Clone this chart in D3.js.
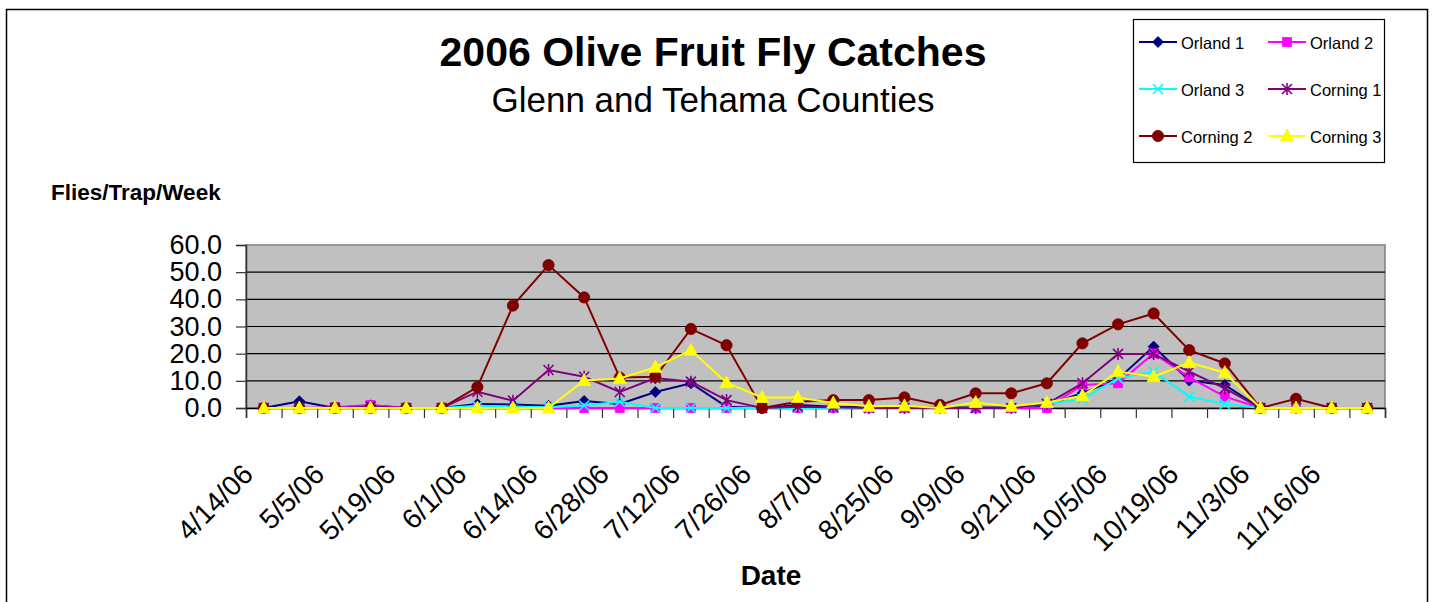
<!DOCTYPE html>
<html>
<head>
<meta charset="utf-8">
<script src="https://cdn.jsdelivr.net/npm/d3@7"></script>
<style>
  body { margin: 0; background: #fff; }
  svg { display: block; font-family: Arial, "Liberation Sans", sans-serif; }
</style>
</head>
<body>
<div id="chart"></div>
<script>
// 2006 olive fruit fly catches

let dates = ["4/14/06", "4/25/06", "5/5/06", "5/12/06", "5/19/06", "5/25/06", "6/1/06", "6/7/06",
             "6/14/06", "6/21/06", "6/28/06", "7/5/06", "7/12/06", "7/19/06", "7/26/06", "8/1/06",
             "8/7/06", "8/16/06", "8/25/06", "9/1/06", "9/9/06", "9/15/06", "9/21/06", "9/28/06",
             "10/5/06", "10/12/06", "10/19/06", "10/26/06", "11/3/06", "11/9/06", "11/16/06", "11/22/06"];

let orland1  = [0, 2.5, 0, 1.0, 0, 0, 1.5, 1.3, 0.8, 2.6, 1.5, 5.9, 9.1, 0.5, 0, 1.1,
                0.5, 0.3, 0.2, 0.2, 0.2, 0.2, 1.0, 5.5, 10.7, 22.6, 10.1, 8.5, 0, 0, 0, 0];
let orland2  = [0, 0, 0.3, 1.1, 0, 0, 0, 0, 0, 0, 0, 0, 0, 0, 0, 0,
                0, 0, 0, 0, 0, 0, 0, 8.5, 9.1, 20.1, 11.3, 4.2, 0, 0, 0, 0];
let orland3  = [0, 0, 0, 0, 0, 0, 0.8, 0.5, 0.3, 0.9, 2.3, 0, 0, 0, 0, 0,
                0, 0, 0, 0, 0, 0, 1.5, 3.2, 10.9, 13.4, 4.2, 1.5, 0, 0, 0, 0];
let corning1 = [0, 0, 0, 0.5, 0, 0, 6.0, 2.7, 14.0, 11.5, 5.9, 11.0, 9.7, 2.9, 0, 0.5,
                0.3, 0, 0, 0, 0, 0, 1.5, 9.1, 19.9, 19.9, 13.4, 7.2, 0, 0, 0, 0];
let corning2 = [0, 0, 0, 0, 0, 0, 7.7, 37.7, 52.6, 40.7, 11.2, 11.5, 29.1, 23.1, 0, 2.3,
                2.9, 2.9, 3.9, 1.1, 5.4, 5.4, 9.1, 23.8, 30.8, 34.8, 21.3, 16.4, 0, 3.4, 0, 0];
let corning3 = [0, 0, 0, 0, 0, 0, 0, 0, 0, 10.1, 10.9, 15.0, 21.3, 9.3, 3.9, 3.9,
                1.8, 0.6, 0.8, 0, 2.0, 0.6, 2.0, 4.5, 13.4, 11.5, 16.7, 13.0, 0, 0, 0, 0];

let seriesNames = ["Orland 1", "Orland 2", "Orland 3", "Corning 1", "Corning 2", "Corning 3"];
let yTicks = [0, 10, 20, 30, 40, 50, 60];

////////////////////////////////////////////////////////////////////////
// layout

let width = 1435, height = 602;
let plot = { left: 246, right: 1385, top: 245, bottom: 408 };

let series = [
  { name: seriesNames[0], values: orland1,  color: "#000080", marker: "diamond" },
  { name: seriesNames[1], values: orland2,  color: "#ff00ff", marker: "square" },
  { name: seriesNames[2], values: orland3,  color: "#00ffff", marker: "x" },
  { name: seriesNames[3], values: corning1, color: "#800080", marker: "star" },
  { name: seriesNames[4], values: corning2, color: "#800000", marker: "circle" },
  { name: seriesNames[5], values: corning3, color: "#ffff00", marker: "triangle" }
];

let xScale = d3.scaleBand().domain(dates).range([plot.left, plot.right]);
let xEdge  = d3.scaleLinear().domain([0, dates.length]).range([plot.left, plot.right]);
let yScale = d3.scaleLinear().domain([0, 60]).range([plot.bottom, plot.top]);

function cx(i) { return xScale(dates[i]) + xScale.bandwidth() / 2; }

// marker outlines, centred on 0,0
function markerPath(type) {
  switch (type) {
    case "diamond":  return "M0,-5.5L5.5,0L0,5.5L-5.5,0Z";
    case "square":   return "M-4.5,-4.5H4.5V4.5H-4.5Z";
    case "x":        return "M-5,-5L5,5M5,-5L-5,5";
    case "star":     return "M-5,-5L5,5M5,-5L-5,5M0,-6V6";
    case "circle":   return d3.symbol(d3.symbolCircle, 100)();
    case "triangle": return "M0,-7L6.5,5L-6.5,5Z";
  }
}
function isStroked(type) { return type === "x" || type === "star"; }

let svg = d3.select("#chart").append("svg")
  .attr("width", width)
  .attr("height", height);

// outer frame
svg.append("rect")
  .attr("x", 6.5).attr("y", 9.5)
  .attr("width", 1421).attr("height", 620)
  .attr("fill", "none")
  .attr("stroke", "#000")
  .attr("stroke-width", 1.5);

// titles
svg.append("text")
  .attr("x", 713).attr("y", 66)
  .attr("text-anchor", "middle")
  .attr("font-size", 41).attr("font-weight", "bold")
  .text("2006 Olive Fruit Fly Catches");
svg.append("text")
  .attr("x", 713).attr("y", 112)
  .attr("text-anchor", "middle")
  .attr("font-size", 35)
  .text("Glenn and Tehama Counties");
svg.append("text")
  .attr("x", 51).attr("y", 200)
  .attr("font-size", 22.5).attr("font-weight", "bold")
  .text("Flies/Trap/Week");
svg.append("text")
  .attr("x", 771).attr("y", 585)
  .attr("text-anchor", "middle")
  .attr("font-size", 28).attr("font-weight", "bold")
  .text("Date");

// plot area
svg.append("rect")
  .attr("x", plot.left).attr("y", plot.top)
  .attr("width", plot.right - plot.left).attr("height", plot.bottom - plot.top)
  .attr("fill", "#c0c0c0")
  .attr("stroke", "#808080")
  .attr("stroke-width", 1.5);

// gridlines
svg.append("g")
  .selectAll("line")
  .data(yTicks.filter(d => d > 0 && d < 60))
  .enter()
  .append("line")
  .attr("x1", plot.left).attr("x2", plot.right)
  .attr("y1", d => yScale(d)).attr("y2", d => yScale(d))
  .attr("stroke", "#000")
  .attr("stroke-width", 1.2);

// y axis
let yAxis = svg.append("g")
  .attr("transform", "translate(" + plot.left + ",0)")
  .call(d3.axisLeft(yScale).tickValues(yTicks).tickSize(10).tickPadding(14)
          .tickFormat(d3.format(".1f")));
yAxis.select(".domain").attr("stroke", "#333").attr("stroke-width", 1.5);
yAxis.selectAll(".tick line").attr("stroke", "#333").attr("stroke-width", 1.2);
yAxis.selectAll("text")
  .attr("font-size", 27)
  .attr("font-family", "Arial, 'Liberation Sans', sans-serif")
  .attr("fill", "#000");

// x axis: tick marks on category edges, labels on every other category
let xTicks = svg.append("g")
  .attr("transform", "translate(0," + plot.bottom + ")")
  .call(d3.axisBottom(xEdge).tickValues(d3.range(dates.length + 1)).tickSize(10).tickFormat(""));
xTicks.select(".domain").attr("stroke", "#000").attr("stroke-width", 1.5);
xTicks.selectAll(".tick line").attr("stroke", "#333").attr("stroke-width", 1.2);

let xLabels = svg.append("g")
  .attr("transform", "translate(0," + plot.bottom + ")")
  .call(d3.axisBottom(xScale).tickValues(dates.filter((d, i) => i % 2 === 0)).tickSize(0));
xLabels.select(".domain").remove();
xLabels.selectAll("text")
  .attr("y", 0).attr("dy", 0)
  .attr("text-anchor", "end")
  .attr("transform", "translate(-9,68) rotate(-45)")
  .attr("font-size", 28)
  .attr("font-family", "Arial, 'Liberation Sans', sans-serif")
  .attr("fill", "#000");

// series lines and markers
let line = d3.line()
  .x((d, i) => cx(i))
  .y(d => yScale(d));

series.forEach(function(s) {
  let g = svg.append("g");
  g.append("path")
    .attr("d", line(s.values))
    .attr("fill", "none")
    .attr("stroke", s.color)
    .attr("stroke-width", 2);
  g.selectAll("path.marker")
    .data(s.values)
    .enter()
    .append("path")
    .attr("class", "marker")
    .attr("transform", (d, i) => "translate(" + cx(i) + "," + yScale(d) + ")")
    .attr("d", markerPath(s.marker))
    .attr("fill", isStroked(s.marker) ? "none" : s.color)
    .attr("stroke", s.color)
    .attr("stroke-width", isStroked(s.marker) ? 1.6 : 0.8);
});

// legend
let legend = svg.append("g");
legend.append("rect")
  .attr("x", 1133.5).attr("y", 19.5)
  .attr("width", 251).attr("height", 143)
  .attr("fill", "#fff")
  .attr("stroke", "#000")
  .attr("stroke-width", 1.2);

let legendItems = legend.selectAll("g.item")
  .data(series)
  .enter()
  .append("g")
  .attr("class", "item")
  .attr("transform", (d, i) => "translate(" + (i % 2 === 0 ? 1139 : 1268) + "," + (42 + Math.floor(i / 2) * 47) + ")");

legendItems.append("line")
  .attr("x1", 0).attr("x2", 38)
  .attr("stroke", d => d.color)
  .attr("stroke-width", 2);
legendItems.append("path")
  .attr("transform", "translate(19,0)")
  .attr("d", d => markerPath(d.marker))
  .attr("fill", d => isStroked(d.marker) ? "none" : d.color)
  .attr("stroke", d => d.color)
  .attr("stroke-width", d => isStroked(d.marker) ? 1.6 : 0.8);
legendItems.append("text")
  .attr("x", 42).attr("y", 6.5)
  .attr("font-size", 16.5)
  .text(d => d.name);
</script>
</body>
</html>
